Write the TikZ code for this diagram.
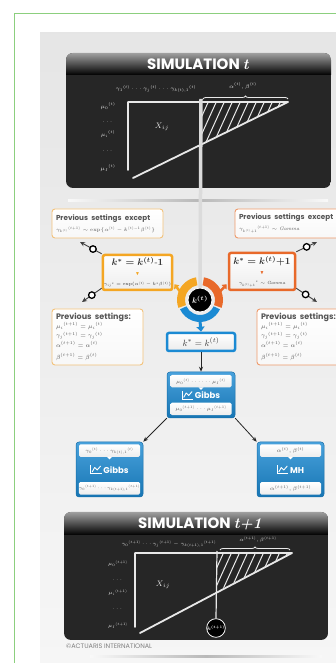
\RequirePackage{fix-cm}
\documentclass[tikz,border=0pt]{standalone}
\usepackage{fontspec}
\usepackage{amsmath,amssymb}
\newfontfamily\hdfont{Poppins}
\usetikzlibrary{arrows.meta,decorations.pathreplacing,calc}
\DeclareMathSizes{4.5}{4.5}{3.3}{2.6}
\DeclareMathSizes{5}{5}{3.6}{2.8}
\DeclareMathSizes{5.5}{5.5}{4}{3}
\DeclareMathSizes{6}{6}{4.3}{3.2}
\DeclareMathSizes{6.5}{6.5}{4.7}{3.5}
\DeclareMathSizes{7}{7}{5}{3.8}
\DeclareMathSizes{8}{8}{5.8}{4.4}
\DeclareMathSizes{9}{9}{6.5}{5}
\DeclareMathSizes{9.5}{9.5}{6.8}{5.2}
\definecolor{boardc}{HTML}{262626}
\definecolor{chalkc}{HTML}{E8E8E8}
\definecolor{orA}{HTML}{F4A623}
\definecolor{orB}{HTML}{E8692A}
\definecolor{orLt}{HTML}{F3C27A}
\definecolor{orDk}{HTML}{EE9A6A}
\definecolor{blueA}{HTML}{1B8AD3}
\definecolor{framegreen}{HTML}{8CCF7E}
\definecolor{txtgray}{HTML}{555555}
\newcommand\charticon{\tikz[x=1pt,y=1pt,baseline=0pt]{\draw[white,line width=0.7pt] (0,8)--(0,0)--(11,0);\draw[white,line width=0.9pt,line join=round] (1.5,1.5)--(4,6)--(6.5,3.5)--(10,7.5);}}
\newcommand\sbp[3]{{#1}_{#2}{}^{#3}}
\begin{document}
\begin{tikzpicture}[x=1pt,y=1pt,
  chalk/.style={draw=chalkc,line width=1.8pt,line cap=round,line join=round},
  chalktxt/.style={text=chalkc,inner sep=0pt,font=\fontsize{5.5}{6}\selectfont},
  hdtext/.style={text=white,inner sep=0pt,font=\hdfont\bfseries\fontsize{15}{16}\selectfont},
  setbox/.style={draw=#1,line width=0.9pt,rounded corners=3pt,top color=white,bottom color=gray!6,align=left,inner sep=4pt,text=txtgray},
  kbox/.style={draw=#1,line width=2.5pt,rounded corners=2pt,top color=white,bottom color=gray!14,align=center,inner sep=1pt,text=black!80},
  gbox/.style={top color=blueA!80!white,bottom color=blueA!85!black,draw=blueA!80!black,line width=0.5pt,rounded corners=3pt},
  subbox/.style={top color=white,bottom color=gray!14,rounded corners=1.5pt,minimum width=61,minimum height=12.5,inner sep=0pt,text=txtgray,font=\fontsize{5.5}{6}\selectfont},
  glabel/.style={text=white,inner sep=0pt,font=\hdfont\bfseries\fontsize{8.5}{9}\selectfont},
  linkline/.style={draw=black!75,line width=0.9pt,-{Stealth[length=5pt,width=4.5pt]}},
  linkring/.style={circle,draw=black,line width=1.3pt,fill=white,inner sep=0pt,minimum size=6.5pt},
  arr/.style={draw=black!85,line width=0.8pt,-{Stealth[length=5pt,width=4pt]}},
  orarrow/.style={line width=2.5pt,-{Triangle[length=4pt,width=6.5pt]}},
  bigk/.style={circle,fill=black,draw=white,line width=0.8pt,inner sep=0pt,text=white}
]
\useasboundingbox (0,0) rectangle (336,663);
\fill[white] (0,0) rectangle (336,663);
\draw[framegreen,line width=1pt] (14,-20) -- (14,649) -- (360,649);
\shade[top color=gray!20,bottom color=gray!7] (40,-5) rectangle (345,630);

% ---------- top board ----------
\begin{scope}
\clip[rounded corners=7pt] (66,475) rectangle (331,610);
\fill[boardc] (66,475) rectangle (331,610);
\shade[top color=gray!75,bottom color=black] (66,588) rectangle (331,610);
\end{scope}
\node[hdtext] (sim1) at (198,599) {SIMULATION {\rmfamily\bfseries\itshape t}};
\shade[left color=gray!5,right color=gray!5,middle color=gray!55] (68,461.5) rectangle (328,463.5);

\begin{scope}
\clip (201,561) -- (288,561) -- (201,519) -- cycle;
\foreach \i in {0,...,12} \draw[chalkc,line width=1pt] (178+\i*8,512) -- ++(25,55);
\end{scope}
\draw[chalk] (128,493) -- (128,561) -- (288,561) -- (133,485);
\draw[chalkc,line width=0.8pt,decorate,decoration={brace,amplitude=3pt}] (203,564) -- (288,564);
\node[chalktxt] (g1) at (156,574) {$\sbp{\gamma}{1}{(t)} \cdots \sbp{\gamma}{j}{(t)} \cdots \sbp{\gamma}{k(t),1}{(t)}$};
\node[chalktxt] (ab1) at (243,577) {$\alpha^{(t)}, \beta^{(t)}$};
\node[chalktxt] (m10) at (108,557) {$\sbp{\mu}{0}{(t)}$};
\node[chalktxt] (d11) at (108,541) {$\cdots$};
\node[chalktxt] (m1i) at (108,529) {$\sbp{\mu}{i}{(t)}$};
\node[chalktxt] (d12) at (108,512) {$\cdots$};
\node[chalktxt] (m1I) at (108,495) {$\sbp{\mu}{I}{(t)}$};
\node[chalktxt,font=\fontsize{8}{9}\selectfont] (x1) at (162,536) {$X_{ij}$};

% ---------- central circle ----------
\node[bigk,minimum size=24pt,font=\fontsize{8}{9}\selectfont] (kt) at (200,363) {$\boldsymbol{k^{(t)}}$};
\draw[line width=3.5pt,color=gray!28] (201,564) -- (kt.north);
\fill[orA] ($(kt.center)+(100:23)$) arc[start angle=100,end angle=200,radius=23] -- ($(kt.center)+(200:15)$) arc[start angle=200,end angle=100,radius=15] -- cycle;
\fill[orB] ($(kt.center)+(80:23)$) arc[start angle=80,end angle=-20,radius=23] -- ($(kt.center)+(-20:15)$) arc[start angle=-20,end angle=80,radius=15] -- cycle;
\fill[blueA] ($(kt.center)+(205:22)$) arc[start angle=205,end angle=335,radius=22] -- ($(kt.center)+(335:15)$) arc[start angle=335,end angle=205,radius=15] -- cycle;

% ---------- orange boxes ----------
\node[kbox=orA,minimum width=69,minimum height=35] (kminus) at (137.5,390.5)
  {{\fontsize{9.5}{10}\selectfont $\boldsymbol{k^{*}=k^{(t)}\text{-}1}$}\\[-2pt]
   {\color{orA}\fontsize{5}{5}\selectfont$\blacktriangledown$}\\[-2pt]
   {\fontsize{4.5}{5}\selectfont $\sbp{\gamma}{ij}{*} = \exp(\alpha^{(t)} - k^{*}\beta^{(t)})$}};
\node[kbox=orB,minimum width=66,minimum height=37] (kplus) at (262,391.5)
  {{\fontsize{9.5}{10}\selectfont $\boldsymbol{k^{*}=k^{(t)}{+}1}$}\\[-2pt]
   {\color{orB}\fontsize{5}{5}\selectfont$\blacktriangledown$}\\[-2pt]
   {\fontsize{4.5}{5}\selectfont $\sbp{\gamma}{k^{(t)}+1}{*} \sim \mathit{Gamma}$}};

% ---------- settings boxes ----------
\node[setbox=orLt,text width=103,minimum height=29] (prevL1) at (107.5,439.5)
  {\mbox{\hdfont\bfseries\fontsize{7.2}{8}\selectfont Previous settings except}\\[-1pt]
   {\fontsize{5}{6}\selectfont $\sbp{\gamma}{k^{(t)}}{(t+1)} \sim \exp\{\alpha^{(t)} - k^{(t)-1}\beta^{(t)}\}$}};
\node[setbox=orDk,text width=102,minimum height=29] (prevR1) at (290,439.5)
  {\mbox{\hdfont\bfseries\fontsize{7.2}{8}\selectfont Previous settings except}\\[-1pt]
   {\fontsize{5}{6}\selectfont $\sbp{\gamma}{k^{(t)}+1}{(t+1)} \sim \mathit{Gamma}$}};
\node[setbox=orLt,text width=83,minimum height=56] (prevL2) at (97.5,326)
  {\mbox{\hdfont\bfseries\fontsize{8}{8}\selectfont Previous settings:}\\[-1pt]
   {\fontsize{6}{9.5}\selectfont $\sbp{\mu}{i}{(t+1)} = \sbp{\mu}{i}{(t)}$\\ $\sbp{\gamma}{j}{(t+1)} = \sbp{\gamma}{j}{(t)}$\\ $\alpha^{(t+1)} = \alpha^{(t)}$\\ $\beta^{(t+1)} = \beta^{(t)}$}};
\node[setbox=orDk,text width=84,minimum height=56] (prevR2) at (303,326)
  {\mbox{\hdfont\bfseries\fontsize{8}{8}\selectfont Previous settings:}\\[-1pt]
   {\fontsize{6}{9.5}\selectfont $\sbp{\mu}{i}{(t+1)} = \sbp{\mu}{i}{(t)}$\\ $\sbp{\gamma}{j}{(t+1)} = \sbp{\gamma}{j}{(t)}$\\ $\alpha^{(t+1)} = \alpha^{(t)}$\\ $\beta^{(t+1)} = \beta^{(t)}$}};

\coordinate (tipL1) at (80,421);
\coordinate (tipL2) at (82,361);
\coordinate (tipR1) at (317,421);
\coordinate (tipR2) at (317,361);
\draw[linkline] (kminus.north west) -- node[linkring,pos=0.4]{} (tipL1);
\draw[linkline] ($(kminus.south west)+(0,3)$) -- node[linkring,pos=0.5]{} (tipL2);
\draw[linkline] (kplus.north east) -- node[linkring,pos=0.5]{} (tipR1);
\draw[linkline] ($(kplus.south east)+(0,3)$) -- node[linkring,pos=0.45]{} (tipR2);

\draw[orarrow,orA] ($(kt.center)+(158:21)$) -- ($(kminus.south east)+(1,7)$);
\draw[orarrow,orB] ($(kt.center)+(22:21)$) -- ($(kplus.south west)+(-1,7)$);

% ---------- blue box ----------
\node[draw=blueA,line width=2.5pt,rounded corners=2pt,top color=white,bottom color=gray!15,minimum width=68,minimum height=18,inner sep=0pt,text=black!75,font=\fontsize{9}{10}\selectfont] (kt2) at (201,321) {$k^{*} = k^{(t)}$};
\draw[blueA,line width=3pt,-{Triangle[length=5pt,width=8pt]}] ($(kt.center)+(0,-21)$) -- (kt2.north);

% ---------- Gibbs boxes ----------
\node[gbox,minimum width=68,minimum height=46] (gibbsC) at (201,268) {};
\node[subbox,anchor=north,font=\fontsize{5}{6}\selectfont] (gC1) at ([yshift=-3pt]gibbsC.north) {$\sbp{\mu}{0}{(t)} \cdots\cdots \sbp{\mu}{I}{(t)}$};
\fill[white] ($(gC1.south)+(-2.5,0.2)$) -- ($(gC1.south)+(2.5,0.2)$) -- ($(gC1.south)+(0,-2.3)$) -- cycle;
\node[glabel] (gCl) at (gibbsC.center) {\charticon\,Gibbs};
\node[subbox,anchor=south,font=\fontsize{5}{6}\selectfont] (gC2) at ([yshift=3pt]gibbsC.south) {$\sbp{\mu}{0}{(t+1)} \cdots \sbp{\mu}{I}{(t+1)}$};

\node[gbox,minimum width=67,minimum height=55] (gibbsL) at (109.5,193.5) {};
\node[subbox,anchor=north,font=\fontsize{5}{6}\selectfont] (gL1) at ([yshift=-2.5pt]gibbsL.north) {$\sbp{\gamma}{0}{(t)} \cdots \sbp{\gamma}{k(t),1}{(t)}$};
\fill[white] ($(gL1.south)+(-2.5,0.2)$) -- ($(gL1.south)+(2.5,0.2)$) -- ($(gL1.south)+(0,-2.3)$) -- cycle;
\node[glabel] (gLl) at (gibbsL.center) {\charticon\,Gibbs};
\node[subbox,anchor=south,font=\fontsize{4.5}{5}\selectfont] (gL2) at ([yshift=2.5pt]gibbsL.south) {$\sbp{\gamma}{0}{(t+1)} \cdots \sbp{\gamma}{k(t+1),1}{(t+1)}$};

\node[gbox,minimum width=67,minimum height=55] (mhR) at (290.5,193.5) {};
\node[subbox,anchor=north] (mR1) at ([yshift=-2.5pt]mhR.north) {$\alpha^{(t)}, \beta^{(t)}$};
\fill[white] ($(mR1.south)+(-2.5,0.2)$) -- ($(mR1.south)+(2.5,0.2)$) -- ($(mR1.south)+(0,-2.3)$) -- cycle;
\node[glabel] (mRl) at (mhR.center) {\charticon\,MH};
\node[subbox,anchor=south] (mR2) at ([yshift=2.5pt]mhR.south) {$\alpha^{(t+1)}, \beta^{(t+1)}$};

\draw[arr] (kt2.south) -- (gibbsC.north);
\draw[arr] (gibbsC.south west) -- (gibbsL.north east);
\draw[arr] (gibbsC.south east) -- (mhR.north west);

% ---------- bottom board ----------
\begin{scope}
\clip[rounded corners=7pt] (64,23) rectangle (328,151);
\fill[boardc] (64,23) rectangle (328,151);
\shade[top color=gray!75,bottom color=black] (64,128) rectangle (328,151);
\end{scope}
\node[hdtext] (sim2) at (200,139) {SIMULATION {\rmfamily\bfseries\itshape t+1}};
\begin{scope}
\clip (217,110) -- (292,110) -- (217,72) -- cycle;
\foreach \i in {0,...,11} \draw[chalkc,line width=1pt] (195+\i*8,65) -- ++(25,55);
\end{scope}
\draw[chalk] (135,36) -- (135,110) -- (292,110) -- (140,30);
\draw[chalkc,line width=0.8pt,decorate,decoration={brace,amplitude=3pt}] (220,113) -- (290,113);
\node[bigk,minimum size=16pt,font=\fontsize{5}{6}\selectfont] (kt1) at (216,35) {$\boldsymbol{k^{(t+1)}}$};
\draw[chalkc,line width=1.2pt] (217,112) -- (kt1.north);
\node[chalktxt,font=\fontsize{5}{6}\selectfont] (g2) at (169,119) {$\sbp{\gamma}{0}{(t+1)} \cdots \sbp{\gamma}{j}{(t+1)} - \sbp{\gamma}{k(t+1),1}{(t+1)}$};
\node[chalktxt,font=\fontsize{5}{6}\selectfont] (ab2) at (258,123) {$\alpha^{(t+1)}, \beta^{(t+1)}$};
\node[chalktxt,font=\fontsize{5}{6}\selectfont] (m20) at (118,99) {$\sbp{\mu}{0}{(t+1)}$};
\node[chalktxt,font=\fontsize{5}{6}\selectfont] (d21) at (118,83) {$\cdots$};
\node[chalktxt,font=\fontsize{5}{6}\selectfont] (m2i) at (118,70) {$\sbp{\mu}{i}{(t+1)}$};
\node[chalktxt,font=\fontsize{5}{6}\selectfont] (d22) at (118,54) {$\cdots$};
\node[chalktxt,font=\fontsize{5}{6}\selectfont] (m2I) at (118,37) {$\sbp{\mu}{I}{(t+1)}$};
\node[chalktxt,font=\fontsize{8}{9}\selectfont] (x2) at (163,78) {$X_{ij}$};

\node[anchor=west,inner sep=0pt,text=gray,font=\hdfont\fontsize{6.5}{7}\selectfont] (copy) at (66,17) {\textcopyright ACTUARIS INTERNATIONAL};
\shade[left color=gray!5,right color=gray!5,middle color=gray!55] (90,5) rectangle (322,7);
\end{tikzpicture}
\end{document}
